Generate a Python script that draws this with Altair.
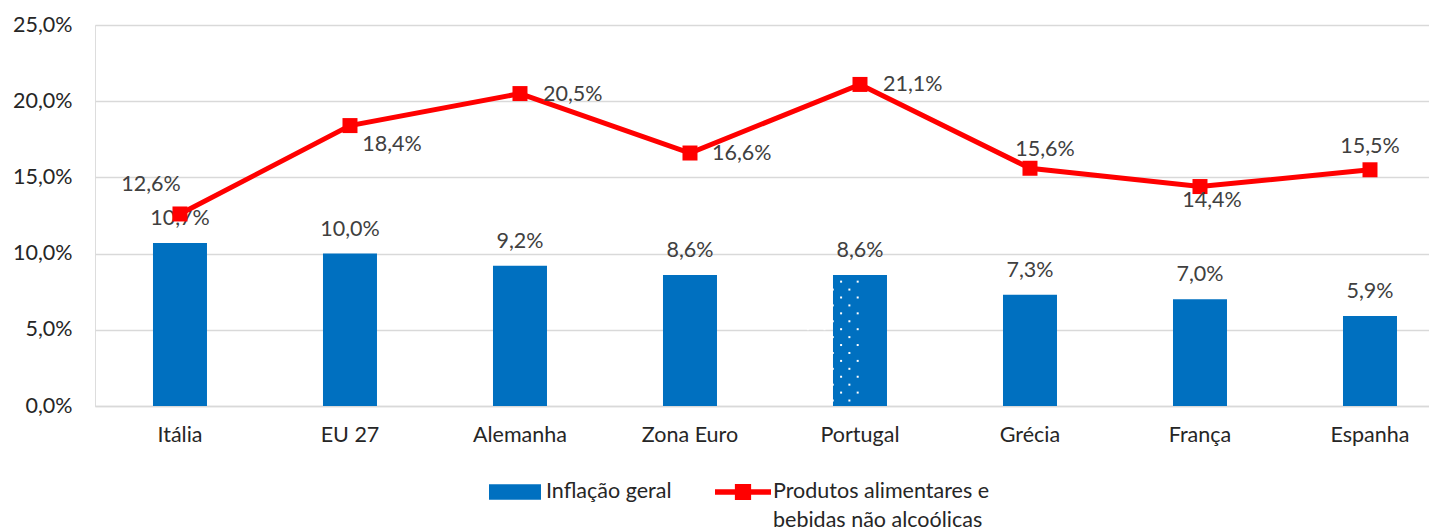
import altair as alt
import pandas as pd

# ---------------- data ----------------
categories = ["Itália", "EU 27", "Alemanha", "Zona Euro", "Portugal", "Grécia", "França", "Espanha"]
inflacao_geral = [10.7, 10.0, 9.2, 8.6, 8.6, 7.3, 7.0, 5.9]
alimentares = [12.6, 18.4, 20.5, 16.6, 21.1, 15.6, 14.4, 15.5]
y_ticks = [0, 5, 10, 15, 20, 25]
serie_bar = "Inflação geral"
serie_line = "Produtos alimentares e bebidas não alcoólicas"
serie_line_lines = ["Produtos alimentares e", "bebidas não alcoólicas"]
highlight = "Portugal"

# ---------------- styles ----------------
BLUE = "#0070C0"
RED = "#FF0000"
GRID = "#D9D9D9"
AXIS_TXT = "#262626"
LBL_TXT = "#404040"
FONT = "Lato"
FS = 21.5
BAR_W = 54
DOT_STEP_PX = 8.3   # horizontal spacing of texture dots

# per-label placement of the red-line data labels (dx, dy, align)
LABEL_OFFSETS = {
    "Itália": (-29, -29, "center"),
    "EU 27": (42, 19, "center"),
    "Alemanha": (23, 1, "left"),
    "Zona Euro": (22, 1, "left"),
    "Portugal": (23, 1, "left"),
    "Grécia": (15, -18, "center"),
    "França": (12, 14, "center"),
    "Espanha": (0, -23, "center"),
}

df = pd.DataFrame({"pais": categories, "geral": inflacao_geral, "alim": alimentares})
df["serie_bar"] = serie_bar
df["serie_line"] = serie_line

# dotted texture of the highlighted bar (white dots in a staggered grid)
top_val = inflacao_geral[categories.index(highlight)]
dots = []
k = 0
yv = top_val - 0.44
while yv > 0.25:
    cols = [0, 2, 4, 6] if k % 2 == 0 else [1, 3, 5]
    for c in cols:
        dots.append({"pais": highlight, "col": c, "yv": yv})
    k += 1
    yv -= 0.52
dots_df = pd.DataFrame(dots)

fmt = "replace(format(datum.v, '.1f'), '.', ',') + '%'"

x_scale = alt.Scale(paddingInner=0.68, paddingOuter=0.2635, align=0.645)
x_enc = alt.X(
    "pais:N",
    sort=categories,
    scale=x_scale,
    axis=alt.Axis(
        title=None, labelAngle=0, ticks=False, tickSize=0, domain=True,
        domainColor=GRID, domainWidth=1.5, labelPadding=18, labelFont=FONT,
        labelFontSize=FS, labelColor=AXIS_TXT, grid=False,
    ),
)
y_scale = alt.Scale(domain=[0, 25], nice=False)
y_axis = alt.Axis(
    title=None, values=y_ticks, labelExpr="replace(format(datum.value, '.1f'), '.', ',') + '%'",
    ticks=False, tickSize=0, domain=False, grid=True, gridColor=GRID, gridWidth=1.5,
    labelPadding=23, labelFont=FONT, labelFontSize=FS, labelColor=AXIS_TXT,
)

base = alt.Chart(df)

bars = base.mark_bar(width=BAR_W).encode(
    x=x_enc,
    y=alt.Y("geral:Q", scale=y_scale, axis=y_axis),
    fill=alt.Fill(
        "serie_bar:N",
        scale=alt.Scale(domain=[serie_bar], range=[BLUE]),
        legend=alt.Legend(
            title=None, orient="none", legendX=394, legendY=441, padding=0,
            symbolType="M-1,-0.3H1V0.3H-1Z", symbolSize=2704, symbolStrokeWidth=0,
            labelFont=FONT, labelFontSize=FS, labelColor=AXIS_TXT, labelOffset=5,
        ),
    ),
)

dot_layers = []
for c in range(7):
    dot_layers.append(
        alt.Chart(dots_df)
        .transform_filter(alt.datum.col == c)
        .mark_square(size=4, color="white", opacity=1)
        .encode(
            x=alt.X("pais:N", sort=categories),
            xOffset=alt.value((c - 3) * DOT_STEP_PX),
            y=alt.Y("yv:Q", scale=y_scale),
        )
    )

bar_labels = base.transform_calculate(v="datum.geral").transform_calculate(
    lbl=fmt
).mark_text(dy=-24, baseline="middle", align="center", font=FONT, fontSize=FS, color=LBL_TXT).encode(
    x=alt.X("pais:N", sort=categories),
    y=alt.Y("geral:Q", scale=y_scale),
    text="lbl:N",
)

line = base.mark_line(color=RED, strokeWidth=5).encode(
    x=alt.X("pais:N", sort=categories),
    y=alt.Y("alim:Q", scale=y_scale),
)

sym_path = "M-1,-0.1H1V0.1H-1Z M-0.29,-0.29H0.29V0.29H-0.29Z"
squares = base.mark_square(size=225, opacity=1, filled=True).encode(
    x=alt.X("pais:N", sort=categories),
    y=alt.Y("alim:Q", scale=y_scale),
    color=alt.Color(
        "serie_line:N",
        scale=alt.Scale(domain=[serie_line], range=[RED]),
        legend=alt.Legend(
            title=None, orient="none", legendX=620, legendY=439, padding=0,
            symbolType=sym_path, symbolSize=3136, symbolStrokeWidth=0, symbolOpacity=1,
            labelFont=FONT, labelFontSize=FS, labelColor=AXIS_TXT, labelOffset=2,
            labelBaseline="middle", labelLimit=400,
            labelExpr="['" + serie_line_lines[0] + "', '" + serie_line_lines[1] + "']",
        ),
    ),
)

line_labels = []
for pais, (dx, dy, al) in LABEL_OFFSETS.items():
    line_labels.append(
        base.transform_filter(alt.datum.pais == pais)
        .transform_calculate(v="datum.alim")
        .transform_calculate(lbl=fmt)
        .mark_text(dx=dx, dy=dy, align=al, baseline="middle", font=FONT, fontSize=FS, color=LBL_TXT)
        .encode(
            x=alt.X("pais:N", sort=categories),
            y=alt.Y("alim:Q", scale=y_scale),
            text="lbl:N",
        )
    )

chart = (
    alt.layer(bars, *dot_layers, bar_labels, line, squares, *line_labels)
    .resolve_scale(fill="independent", color="independent")
    .properties(
        width=1334,
        height=381,
        padding={"left": 87, "top": 17, "right": 0, "bottom": 122},
        autosize="none",
    )
    .configure_view(stroke=None)
    .configure(font=FONT, style={"guide-label": {"lineHeight": 29}})
)

chart.save("out.html", embed_options={"renderer": "svg", "actions": False})
